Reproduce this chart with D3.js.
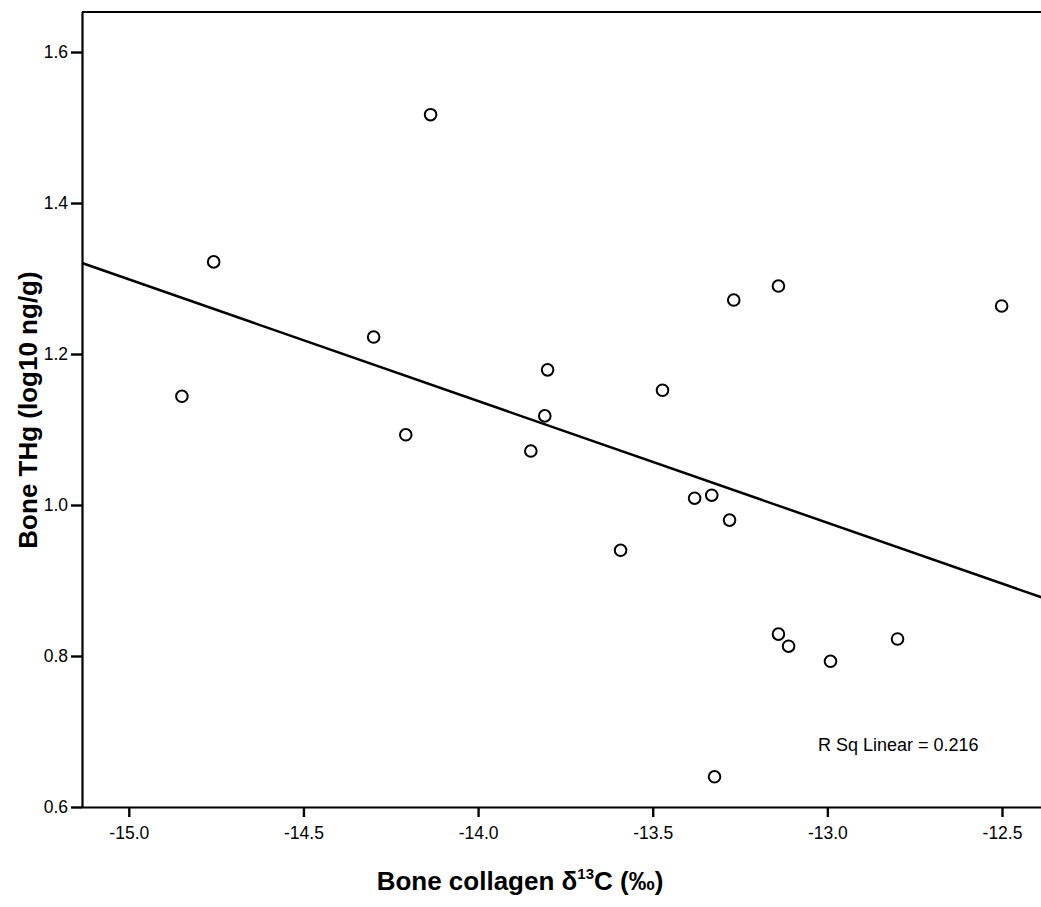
<!DOCTYPE html>
<html>
<head>
<meta charset="utf-8">
<script src="https://cdn.jsdelivr.net/npm/d3@7"></script>
<style>
  html, body { margin: 0; padding: 0; background: #fff; }
  svg { display: block; font-family: "Liberation Sans", Arial, sans-serif; }
</style>
</head>
<body>
<svg id="chart" width="1041" height="907"></svg>
<script>
// Bone collagen δ13C (‰) for each specimen
const d13C = [-14.848, -14.757, -14.299, -14.207, -14.136, -13.849, -13.809, -13.801,
              -13.592, -13.472, -13.380, -13.331, -13.280, -13.268, -13.323, -13.140,
              -13.140, -13.111, -12.991, -12.799, -12.501];
// Bone THg, log10 ng/g, same order
const logTHg = [1.144, 1.322, 1.2225, 1.093, 1.517, 1.0715, 1.118, 1.179,
                0.940, 1.152, 1.009, 1.013, 0.980, 1.2715, 0.640, 1.290,
                0.829, 0.813, 0.793, 0.8225, 1.2636];
// linear fit: [intercept, slope]
const fitCoef = [-1.1191, -0.1612];
const xTicks = [-15.0, -14.5, -14.0, -13.5, -13.0, -12.5];
const yTicks = [0.6, 0.8, 1.0, 1.2, 1.4, 1.6];
const rSqLabel = "R Sq Linear = 0.216";

const svg = d3.select("#chart");
const plotL = 82, plotR = 1046, plotT = 12, plotB = 807;

const x = d3.scaleLinear().domain([-15.134, -12.374]).range([plotL, plotR]);
const y = d3.scaleLinear().domain([0.6, 1.653]).range([plotB, plotT]);

const fmt = v => v.toFixed(1);   // plain hyphen-minus, one decimal

// frame: top border and axes
svg.append("line").attr("x1", plotL).attr("x2", plotR).attr("y1", plotT).attr("y2", plotT)
  .attr("stroke", "#000").attr("stroke-width", 2);

const xAxis = svg.append("g").attr("transform", `translate(0,${plotB})`)
  .call(d3.axisBottom(x).tickValues(xTicks).tickFormat(fmt).tickSize(10).tickPadding(10));
const yAxis = svg.append("g").attr("transform", `translate(${plotL},0)`)
  .call(d3.axisLeft(y).tickValues(yTicks).tickFormat(fmt).tickSize(11).tickPadding(3));

[xAxis, yAxis].forEach(g => {
  g.select(".domain").attr("stroke", "#000").attr("stroke-width", 2.2);
  g.selectAll(".tick line").attr("stroke", "#000").attr("stroke-width", 2.4);
  g.selectAll(".tick text").attr("fill", "#000").style("font-size", "17.5px")
    .style("font-family", "'Liberation Sans', Arial, sans-serif");
});
xAxis.select(".domain").attr("d", `M${plotL},0.5H${plotR}`);
yAxis.select(".domain").attr("d", `M0.5,${plotB}V${plotT}`);

// regression line across the plot
const xs = x.domain();
const fit = v => fitCoef[0] + fitCoef[1] * v;
svg.append("line")
  .attr("x1", x(xs[0])).attr("y1", y(fit(xs[0])))
  .attr("x2", x(xs[1])).attr("y2", y(fit(xs[1])))
  .attr("stroke", "#000").attr("stroke-width", 2.5);

// specimens
svg.append("g").selectAll("circle")
  .data(d13C.map((v, i) => [v, logTHg[i]]))
  .join("circle")
  .attr("cx", d => x(d[0])).attr("cy", d => y(d[1]))
  .attr("r", 5.8).attr("fill", "#fff").attr("stroke", "#000").attr("stroke-width", 2);

svg.append("text").attr("x", 818).attr("y", 751)
  .style("font-size", "18px").attr("fill", "#000").text(rSqLabel);

// axis titles
const xt = svg.append("text").attr("x", 520).attr("y", 890).attr("text-anchor", "middle")
  .style("font-size", "26px").style("font-weight", "bold").attr("fill", "#000");
xt.append("tspan").text("Bone collagen δ");
xt.append("tspan").attr("dy", -11).style("font-size", "15px").text("13");
xt.append("tspan").attr("dy", 11).text("C (‰)");

svg.append("text").attr("transform", "translate(37,410) rotate(-90)").attr("text-anchor", "middle")
  .style("font-size", "26px").style("font-weight", "bold").attr("fill", "#000")
  .text("Bone THg (log10 ng/g)");
</script>
</body>
</html>
